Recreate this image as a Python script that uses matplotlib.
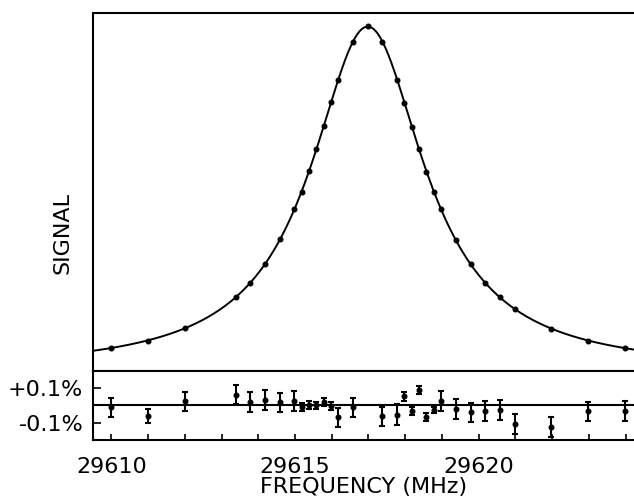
import numpy as np
import matplotlib
matplotlib.use("Agg")
import matplotlib.pyplot as plt

# line scan: frequency (MHz) and normalised signal
freq = [29610.0, 29611.0, 29612.0, 29613.38, 29613.78, 29614.18, 29614.58, 29614.98,
        29615.18, 29615.38, 29615.58, 29615.78, 29615.98, 29616.18, 29616.58, 29616.98,
        29617.38, 29617.78, 29617.98, 29618.18, 29618.38, 29618.58, 29618.78, 29618.98,
        29619.38, 29619.78, 29620.18, 29620.58, 29620.98, 29621.98, 29622.98, 29623.98]
signal = [0.0626, 0.0838, 0.1184, 0.2050, 0.2458, 0.2980, 0.3670, 0.4508,
          0.5000, 0.5578, 0.6184, 0.6835, 0.7497, 0.8120, 0.9190, 0.9628,
          0.9190, 0.8120, 0.7486, 0.6816, 0.6184, 0.5542, 0.5000, 0.4508,
          0.3651, 0.2972, 0.2458, 0.2067, 0.1723, 0.1165, 0.0838, 0.0626]

# fit residuals in percent (peak point has none)
resid_freq = [29610.0, 29611.0, 29612.0, 29613.38, 29613.78, 29614.18, 29614.58, 29614.98,
              29615.18, 29615.38, 29615.58, 29615.78, 29615.98, 29616.18, 29616.58,
              29617.38, 29617.78, 29617.98, 29618.18, 29618.38, 29618.58, 29618.78, 29618.98,
              29619.38, 29619.78, 29620.18, 29620.58, 29620.98, 29621.98, 29622.98, 29623.98]
resid = [-0.012, -0.060, 0.023, 0.062, 0.019, 0.033, 0.019, 0.023,
         -0.010, 0.004, 0.000, 0.017, -0.006, -0.068, -0.012,
         -0.064, -0.054, 0.052, -0.035, 0.091, -0.068, -0.025, 0.027,
         -0.021, -0.041, -0.031, -0.027, -0.107, -0.124, -0.035, -0.031]
resid_err = [0.056, 0.041, 0.055, 0.054, 0.057, 0.058, 0.055, 0.058,
             0.023, 0.023, 0.022, 0.023, 0.023, 0.054, 0.057,
             0.054, 0.060, 0.024, 0.023, 0.023, 0.022, 0.017, 0.058,
             0.057, 0.057, 0.058, 0.057, 0.058, 0.057, 0.057, 0.058]

x_ticks = [29610, 29615, 29620]
y_ticks = [0.1, -0.1]
y_tick_labels = ["+0.1%", "-0.1%"]

plt.rcParams["font.family"] = ["DejaVu Sans"]
plt.rcParams["font.size"] = 16

# Lorentzian + baseline fit to the read points (grid search on centre/width)
f = np.array(freq)
s = np.array(signal)
best = None
for f0 in np.linspace(29616.8, 29617.2, 41):
    for g in np.linspace(1.4, 2.4, 101):
        lor = 1.0 / (1.0 + ((f - f0) / g) ** 2)
        M = np.column_stack([lor, np.ones_like(lor)])
        coef, res, _, _ = np.linalg.lstsq(M, s, rcond=None)
        err = np.sum((M @ coef - s) ** 2)
        if best is None or err < best[0]:
            best = (err, f0, g, coef)
_, f0, g, (amp, base) = best
xlim = (29609.5, 29624.23)
fx = np.linspace(xlim[0], xlim[1], 600)
fy = amp / (1.0 + ((fx - f0) / g) ** 2) + base

fig = plt.figure(figsize=(6.34, 5.03), dpi=100)
ax = fig.add_axes([0.1467, 0.2630, 0.8533, 0.7118])
axr = fig.add_axes([0.1467, 0.1252, 0.8533, 0.1378])

ax.plot(fx, fy, color="black", lw=1.4)
ax.plot(freq, signal, "o", color="black", ms=3.3)
ax.set_xlim(*xlim)
ax.set_ylim(0, 1)
ax.set_xticks([])
ax.set_yticks([])
ax.spines["right"].set_visible(False)
for sp in ["top", "left", "bottom"]:
    ax.spines[sp].set_linewidth(1.5)

axr.axhline(0, color="black", lw=1.5)
axr.errorbar(resid_freq, resid, yerr=resid_err, fmt="o", color="black", ms=3.3,
             elinewidth=1.5, capsize=2.2, capthick=1.5)
axr.set_xlim(*xlim)
axr.set_ylim(-0.2, 0.2)
axr.set_xticks(x_ticks)
axr.set_xticks(range(29610, 29625), minor=True)
axr.set_yticks(y_ticks)
axr.set_yticklabels(y_tick_labels)
axr.tick_params(axis="x", which="both", direction="in", length=4.5, width=1.2, pad=12)
axr.tick_params(axis="y", direction="in", length=5.5, width=1.2, pad=7)
axr.spines["right"].set_visible(False)
for sp in ["top", "left", "bottom"]:
    axr.spines[sp].set_linewidth(1.5)
axr.set_xlabel("FREQUENCY (MHz)", labelpad=0)

fig.text(0.098, 1 - 233 / 503, "SIGNAL", rotation=90, ha="center", va="center")

fig.savefig("out.png", dpi=100)
